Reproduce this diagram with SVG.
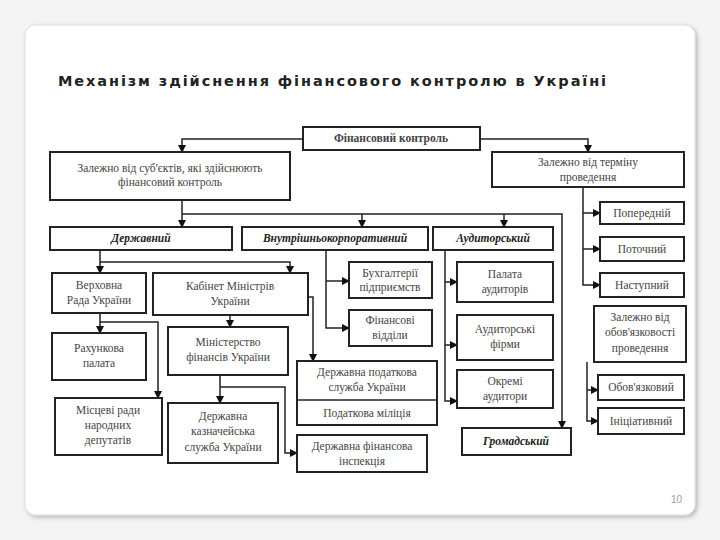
<svg xmlns="http://www.w3.org/2000/svg" width="720" height="540" viewBox="0 0 720 540">
<defs>
<marker id="a" markerWidth="8" markerHeight="8" refX="7" refY="4" orient="auto" markerUnits="userSpaceOnUse"><path d="M0,0 L8,4 L0,8 Z" fill="#111"/></marker>
<filter id="sh" x="-5%" y="-5%" width="110%" height="110%"><feDropShadow dx="2" dy="2" stdDeviation="2" flood-color="#000" flood-opacity="0.25"/></filter>
</defs>
<style>
.b{fill:#fff;stroke:#222;stroke-width:2}
.t{font-family:'Liberation Serif','Times New Roman',serif;font-size:11.5px;fill:#444;text-anchor:middle}
.bi{font-weight:bold;font-style:italic;fill:#222}
.c{fill:none;stroke:#222;stroke-width:1.5}
</style>
<rect x="0" y="0" width="720" height="540" fill="#f4f4f4"/>
<rect x="25" y="25" width="670" height="490" rx="10" fill="#fff" stroke="#ddd" filter="url(#sh)"/>
<text x="58" y="86" font-family="'DejaVu Sans',sans-serif" font-size="14.5" font-weight="bold" letter-spacing="1.9" fill="#222">Механізм здійснення фінансового контролю в Україні</text>
<text x="682" y="503" font-family="'Liberation Sans',sans-serif" font-size="10" fill="#999" text-anchor="end">10</text>

<g id="connectors">
<path class="c" d="M303,139 H182 V152" marker-end="url(#a)"/>
<path class="c" d="M480,139 H588 V152" marker-end="url(#a)"/>
<path class="c" d="M182,200 V227" marker-end="url(#a)"/>
<path class="c" d="M182,214 H562 V428" marker-end="url(#a)"/>
<path class="c" d="M362,214 V227" marker-end="url(#a)"/>
<path class="c" d="M504,214 V227" marker-end="url(#a)"/>
<path class="c" d="M100,250 V273" marker-end="url(#a)"/>
<path class="c" d="M100,262 H290 V273" marker-end="url(#a)"/>
<path class="c" d="M100,313 V333" marker-end="url(#a)"/>
<path class="c" d="M100,322 H158 V398" marker-end="url(#a)"/>
<path class="c" d="M230,315 V327" marker-end="url(#a)"/>
<path class="c" d="M308,297 H313 V361" marker-end="url(#a)"/>
<path class="c" d="M220,375 V403" marker-end="url(#a)"/>
<path class="c" d="M220,387 H285 V453 H297" marker-end="url(#a)"/>
<path class="c" d="M326,250 V328 H349" marker-end="url(#a)"/>
<path class="c" d="M326,281 H349" marker-end="url(#a)"/>
<path class="c" d="M445,250 V401 H457" marker-end="url(#a)"/>
<path class="c" d="M445,282 H457" marker-end="url(#a)"/>
<path class="c" d="M445,345 H457" marker-end="url(#a)"/>
<path class="c" d="M583,187 V285 H600" marker-end="url(#a)"/>
<path class="c" d="M583,213 H600" marker-end="url(#a)"/>
<path class="c" d="M583,249 H600" marker-end="url(#a)"/>
<path class="c" d="M587,362 V421 H598" marker-end="url(#a)"/>
<path class="c" d="M587,390 H598" marker-end="url(#a)"/>
</g>

<g id="n-fk"><rect class="b" x="303" y="127" width="177" height="23"/><text class="t" x="391" y="142" font-weight="bold" fill="#222">Фінансовий контроль</text></g>
<g id="n-subj"><rect class="b" x="50" y="152" width="240" height="48"/><text class="t" x="170" y="172">Залежно від суб'єктів, які здійснюють</text><text class="t" x="170" y="186">фінансовий контроль</text></g>
<g id="n-term"><rect class="b" x="492" y="152" width="192" height="35"/><text class="t" x="588" y="166">Залежно від терміну</text><text class="t" x="588" y="181">проведення</text></g>
<g id="n-derzh"><rect class="b" x="50" y="227" width="182" height="23"/><text class="t bi" x="141" y="242">Державний</text></g>
<g id="n-vnutr"><rect class="b" x="242" y="227" width="186" height="23"/><text class="t bi" x="335" y="242">Внутрішньокорпоративний</text></g>
<g id="n-audyt"><rect class="b" x="433" y="227" width="120" height="23"/><text class="t bi" x="493" y="242">Аудиторський</text></g>
<g id="n-poper"><rect class="b" x="600" y="202" width="84" height="22"/><text class="t" x="642" y="217">Попередній</text></g>
<g id="n-potoch"><rect class="b" x="600" y="237" width="84" height="24"/><text class="t" x="642" y="253">Поточний</text></g>
<g id="n-nast"><rect class="b" x="600" y="273" width="84" height="24"/><text class="t" x="642" y="289">Наступний</text></g>
<g id="n-vr"><rect class="b" x="52" y="273" width="94" height="40"/><text class="t" x="99" y="289">Верховна</text><text class="t" x="99" y="304">Рада України</text></g>
<g id="n-kmu"><rect class="b" x="153" y="273" width="155" height="42"/><text class="t" x="230" y="290">Кабінет Міністрів</text><text class="t" x="230" y="305">України</text></g>
<g id="n-buh"><rect class="b" x="349" y="262" width="83" height="36"/><text class="t" x="390" y="277">Бухгалтерії</text><text class="t" x="390" y="291">підприємств</text></g>
<g id="n-pal"><rect class="b" x="457" y="262" width="96" height="40"/><text class="t" x="505" y="278">Палата</text><text class="t" x="505" y="293">аудиторів</text></g>
<g id="n-oboviaz"><rect class="b" x="594" y="306" width="92" height="56"/><text class="t" x="640" y="321">Залежно від</text><text class="t" x="640" y="336">обов'язковості</text><text class="t" x="640" y="352">проведення</text></g>
<g id="n-finv"><rect class="b" x="349" y="310" width="83" height="36"/><text class="t" x="390" y="324">Фінансові</text><text class="t" x="390" y="339">відділи</text></g>
<g id="n-rp"><rect class="b" x="52" y="333" width="94" height="47"/><text class="t" x="99" y="352">Рахункова</text><text class="t" x="99" y="367">палата</text></g>
<g id="n-mf"><rect class="b" x="168" y="327" width="120" height="48"/><text class="t" x="228" y="346">Міністерство</text><text class="t" x="228" y="361">фінансів України</text></g>
<g id="n-af"><rect class="b" x="457" y="315" width="96" height="45"/><text class="t" x="505" y="333">Аудиторські</text><text class="t" x="505" y="348">фірми</text></g>
<g id="n-dps"><rect class="b" x="297" y="361" width="140" height="64"/><line x1="297" y1="400" x2="437" y2="400" stroke="#222" stroke-width="1.5"/><text class="t" x="367" y="376">Державна податкова</text><text class="t" x="367" y="391">служба України</text><text class="t" x="367" y="417">Податкова міліція</text></g>
<g id="n-oa"><rect class="b" x="457" y="370" width="96" height="38"/><text class="t" x="505" y="385">Окремі</text><text class="t" x="505" y="400">аудитори</text></g>
<g id="n-obov"><rect class="b" x="598" y="375" width="86" height="25"/><text class="t" x="641" y="391">Обов'язковий</text></g>
<g id="n-inic"><rect class="b" x="598" y="408" width="86" height="26"/><text class="t" x="641" y="425">Ініціативний</text></g>
<g id="n-mr"><rect class="b" x="55" y="398" width="107" height="57"/><text class="t" x="108" y="414">Місцеві ради</text><text class="t" x="108" y="429">народних</text><text class="t" x="108" y="444">депутатів</text></g>
<g id="n-dks"><rect class="b" x="168" y="403" width="110" height="60"/><text class="t" x="223" y="420">Державна</text><text class="t" x="223" y="435">казначейська</text><text class="t" x="223" y="451">служба України</text></g>
<g id="n-grom"><rect class="b" x="462" y="428" width="109" height="27"/><text class="t bi" x="516" y="445">Громадський</text></g>
<g id="n-dfi"><rect class="b" x="297" y="435" width="130" height="37"/><text class="t" x="362" y="450">Державна фінансова</text><text class="t" x="362" y="465">інспекція</text></g>
</svg>
